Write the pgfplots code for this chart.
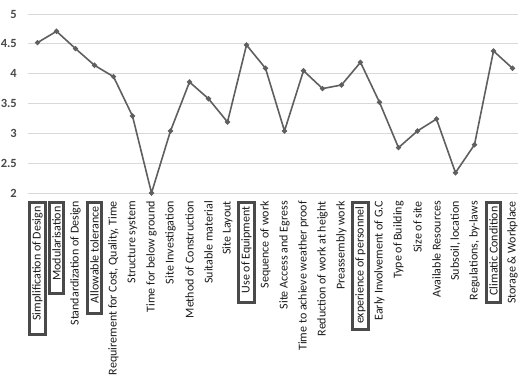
\documentclass[border=0pt]{standalone}
\usepackage{pgfplots}
\pgfplotsset{compat=1.18}
\usepackage{fontspec}
\setmainfont{Carlito}
\definecolor{linegray}{HTML}{5F5F5F}
\definecolor{gridgray}{HTML}{D9D9D9}
\definecolor{boxgray}{HTML}{4A4A4A}
\definecolor{labgray}{HTML}{1A1A1A}
\setlength{\fboxrule}{3bp}
\setlength{\fboxsep}{1.2bp}
\newcommand{\bx}[2]{\fcolorbox{boxgray}{white}{\hspace{#2}#1\hspace{1bp}}\hspace{-5.2bp}}
\begin{document}
\begin{tikzpicture}
\useasboundingbox (-28bp,-186bp) rectangle (490bp,193bp);
\begin{axis}[
  at={(0,0)}, anchor=south west,
  scale only axis, width=490bp, height=179bp,
  xmin=-0.5, xmax=25.29, ymin=2, ymax=5,
  ytick={2,2.5,3,3.5,4,4.5,5},
  xtick={0,...,25},
  xticklabels={{\bx{Simplification of Design}{11bp}},{\bx{Modularisation}{10bp}},{Standardization of Design},{\bx{Allowable tolerance}{8bp}},{Requirement for Cost, Quality, Time},{Structure system},{Time for below ground},{Site Investigation},{Method of Construction},{Suitable material},{Site Layout},{\bx{Use of Equipment}{6bp}},{Sequence of work},{Site Access and Egress},{Time to achieve weather proof},{Reduction of work at height},{Preassembly work},{\bx{experience of personnel}{3bp}},{Early Involvement of G.C},{Type of Building},{Size of site},{Available Resources},{Subsoil, location},{Regulations, by-laws},{\bx{Climatic Condition}{4bp}},{Storage \& Workplace}},
  xticklabel style={rotate=90, anchor=east, font=\fontsize{12bp}{14bp}\selectfont, text=labgray, inner xsep=8bp, inner ysep=0pt},
  yticklabel style={font=\fontsize{12.5bp}{14bp}\selectfont\bfseries, text=boxgray, inner sep=0pt, xshift=-11bp},
  /pgf/number format/assume math mode=true,
  axis line style={draw=none},
  major tick style={draw=none},
  ymajorgrids, grid style={gridgray, line width=0.9bp},
  clip=false,
]
\addplot[color=linegray, line width=1.6bp, mark=*, mark size=1.7bp, mark options={fill=linegray}] coordinates {
(0,4.52) (1,4.71) (2,4.42) (3,4.14) (4,3.95) (5,3.29) (6,2.00) (7,3.04) (8,3.86) (9,3.58) (10,3.19) (11,4.48) (12,4.09) (13,3.04) (14,4.05) (15,3.75) (16,3.81) (17,4.19) (18,3.52) (19,2.76) (20,3.04) (21,3.24) (22,2.34) (23,2.81) (24,4.38) (25,4.09)
};
\end{axis}
\end{tikzpicture}
\end{document}
